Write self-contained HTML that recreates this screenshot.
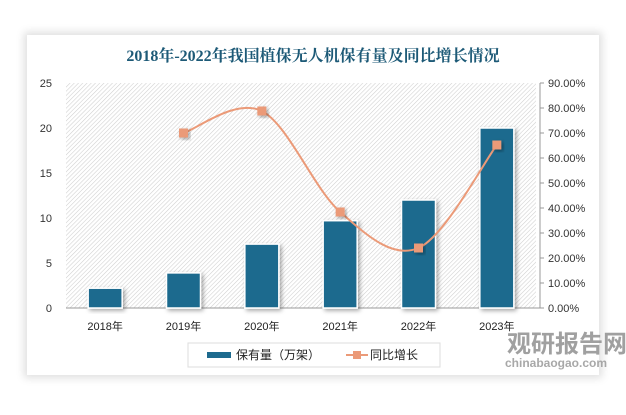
<!DOCTYPE html>
<html><head><meta charset="utf-8"><style>
body{margin:0;width:626px;height:415px;background:#fff;overflow:hidden;font-family:"Liberation Sans","Noto Sans CJK SC",sans-serif}
#card{position:absolute;left:27px;top:35px;width:572px;height:340px;background:#fff;box-shadow:0 0 8px 3px rgba(0,0,0,0.13)}
</style></head><body>
<div id="card"></div>
<svg id="chart" width="626" height="415" style="position:absolute;left:0;top:0">
<defs>
<pattern id="hatch" width="3" height="3" patternUnits="userSpaceOnUse" patternTransform="rotate(45)">
<rect width="3" height="3" fill="#fff"/><line x1="0" y1="0" x2="0" y2="3" stroke="#cfcfcf" stroke-width="1.1"/></pattern>
<filter id="sh" x="-30%" y="-30%" width="160%" height="160%"><feDropShadow dx="2" dy="2" stdDeviation="2" flood-color="#000" flood-opacity="0.35"/></filter>
</defs>
<text x="313" y="61" text-anchor="middle" font-family="'Liberation Serif','Noto Serif CJK SC',serif" font-weight="bold" font-size="16" fill="#1d5a77">2018年-2022年我国植保无人机保有量及同比增长情况</text>
<rect x="66" y="83" width="470" height="225" fill="url(#hatch)"/>
<g id="g"></g>
</svg>
<script>
const categories=["2018年","2019年","2020年","2021年","2022年","2023年"];
const holdings=[2.2,3.9,7.1,9.7,12,20];
const growthCats=[1,2,3,4,5];
const growth=[70.0,78.8,38.4,24.0,65.2];
const leftTicks=[0,5,10,15,20,25];
const rightTicks=[0,10,20,30,40,50,60,70,80,90];
const NS="http://www.w3.org/2000/svg";
const g=document.getElementById('g');
const X0=66,X1=536,Y0=308,Y1=83;
const band=(X1-X0)/categories.length;
const xc=i=>X0+band*(i+0.5);
const yl=v=>Y0-(v/25)*(Y0-Y1);
const yr=v=>Y0-(v/90)*(Y0-Y1);
function mk(t,a,p){const e=document.createElementNS(NS,t);for(const k in a)e.setAttribute(k,a[k]);(p||g).appendChild(e);return e;}
mk('line',{x1:X0,y1:Y0,x2:X1+4,y2:Y0,stroke:'#999','stroke-width':1});
mk('line',{x1:X1+4,y1:Y1,x2:X1+4,y2:Y0,stroke:'#999','stroke-width':1});
leftTicks.forEach(v=>{const t=mk('text',{x:52,y:yl(v)+4,'text-anchor':'end','font-size':11,fill:'#333'});t.textContent=v;

});
rightTicks.forEach(v=>{mk('line',{x1:X1+4,y1:yr(v),x2:X1+8,y2:yr(v),stroke:'#999'});const t=mk('text',{x:548,y:yr(v)+4,'font-size':11,fill:'#333'});t.textContent=v.toFixed(2)+'%';

});
categories.forEach((c,i)=>{const t=mk('text',{x:xc(i),y:330,'text-anchor':'middle','font-size':11,fill:'#222'});t.textContent=c;

});
holdings.forEach((v,i)=>{const w=34;const r=mk('rect',{x:xc(i)-w/2,y:yl(v),width:w,height:Y0-yl(v),fill:'#1d6a8e',stroke:'#fff','stroke-width':1.5,filter:'url(#sh)'});

});
const pts=growth.map((v,k)=>[xc(growthCats[k]),yr(v)]);
let d='M'+pts[0].join(',');
for(let i=0;i<pts.length-1;i++){const p0=pts[i-1]||pts[i],p1=pts[i],p2=pts[i+1],p3=pts[i+2]||p2;
d+=` C${p1[0]+(p2[0]-p0[0])/6},${p1[1]+(p2[1]-p0[1])/6} ${p2[0]-(p3[0]-p1[0])/6},${p2[1]-(p3[1]-p1[1])/6} ${p2[0]},${p2[1]}`;}
const ln=mk('path',{d:d,fill:'none',stroke:'#eb9a78','stroke-width':2});


pts.forEach(p=>{const m=mk('rect',{x:p[0]-4.5,y:p[1]-4.5,width:9,height:9,fill:'#eb9a78',filter:'url(#sh)'});

});
const lg=mk('g',{});


mk('rect',{x:188,y:343,width:252,height:24,fill:'#fff',stroke:'#ddd'},lg);
mk('rect',{x:207,y:352,width:24,height:6,fill:'#1d6a8e'},lg);
const t1=mk('text',{x:236,y:359,'font-size':12,fill:'#222'},lg);t1.textContent='保有量（万架）';
mk('line',{x1:346,y1:355,x2:368,y2:355,stroke:'#eb9a78','stroke-width':2},lg);
mk('rect',{x:353,y:351,width:8,height:8,fill:'#eb9a78'},lg);
const t2=mk('text',{x:370,y:359,'font-size':12,fill:'#222'},lg);t2.textContent='同比增长';
const w1=mk('text',{x:567,y:352,'text-anchor':'middle','font-size':24,'font-weight':'bold',fill:'#8f8f8f','fill-opacity':0.85});w1.textContent='观研报告网';


const w2=mk('text',{x:556,y:367,'text-anchor':'middle','font-size':12,'font-weight':'bold',fill:'#999','fill-opacity':0.85});w2.textContent='chinabaogao.com';


</script>
</body></html>
